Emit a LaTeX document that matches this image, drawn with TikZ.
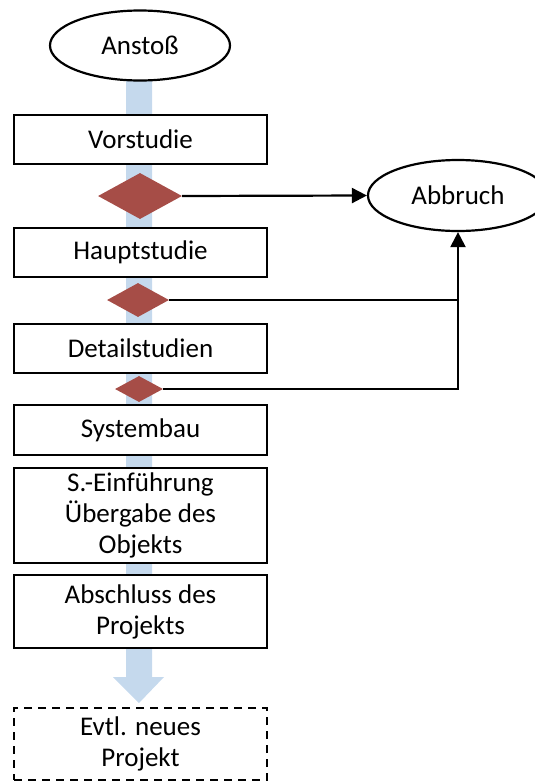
\documentclass[tikz,border=0pt]{standalone}
\usepackage{fontspec}
\setmainfont{Carlito}
\usetikzlibrary{shapes.geometric,arrows.meta}
\definecolor{barblue}{RGB}{197,217,237}
\definecolor{decred}{RGB}{166,77,71}
\tikzset{
  stepbox/.style={draw=black, line width=2.2pt, fill=white, minimum width=253pt, inner sep=0pt, align=center, font=\fontsize{27}{31}\selectfont},
  terminal/.style={draw=black, line width=2.2pt, fill=white, ellipse, minimum width=180pt, minimum height=70pt, inner sep=0pt, font=\fontsize{27}{31}\selectfont},
  decision/.style={diamond, fill=decred, draw=none, inner sep=0pt},
  conn/.style={line width=2.2pt, -{Triangle[length=15pt,width=15pt]}},
  plain/.style={line width=2.2pt}
}
\begin{document}
\begin{tikzpicture}[x=1pt,y=-1pt]
\useasboundingbox (0,0) rectangle (535,782);
\clip (0,0) rectangle (535,782);
% blue flow bar
\fill[barblue] (126,70) -- (152,70) -- (152,677) -- (164,677) -- (139,703) -- (113,677) -- (126,677) -- cycle;
% nodes
\node[terminal] (anstoss) at (140,45.5) {Anstoß};
\node[stepbox, minimum height=49pt] (vor) at (140.5,139.5) {Vorstudie};
\node[decision, minimum width=84pt, minimum height=46pt] (d1) at (140,196) {};
\node[stepbox, minimum height=49pt] (haupt) at (140.5,252.5) {Hauptstudie};
\node[decision, minimum width=62pt, minimum height=34pt] (d2) at (138,300) {};
\node[stepbox, minimum height=49pt] (detail) at (140.5,348.5) {Detailstudien};
\node[decision, minimum width=48pt, minimum height=26pt] (d3) at (139,389) {};
\node[stepbox, minimum height=50pt] (sys) at (140.5,430) {Systembau};
\node[stepbox, minimum height=95pt] (einf) at (140.5,515.5) {S.-Einführung\\Übergabe des\\Objekts};
\node[stepbox, minimum height=73pt] (abschl) at (140.5,611.5) {Abschluss des\\Projekts};
\node[stepbox, dashed, dash pattern=on 8pt off 6pt, minimum height=72pt] (neu) at (140.5,744) {Evtl. neues\\Projekt};
\node[terminal, minimum height=71pt] (abbruch) at (458,195.5) {Abbruch};
% connectors
\draw[conn] (d1.east) -- (abbruch.west);
\coordinate (j2) at (abbruch.south |- d2.east);
\coordinate (j3) at (abbruch.south |- d3.east);
\draw[plain] (d2.east) -- (j2);
\draw[conn] (d3.east) -- (j3) -- (abbruch.south);
\end{tikzpicture}
\end{document}
